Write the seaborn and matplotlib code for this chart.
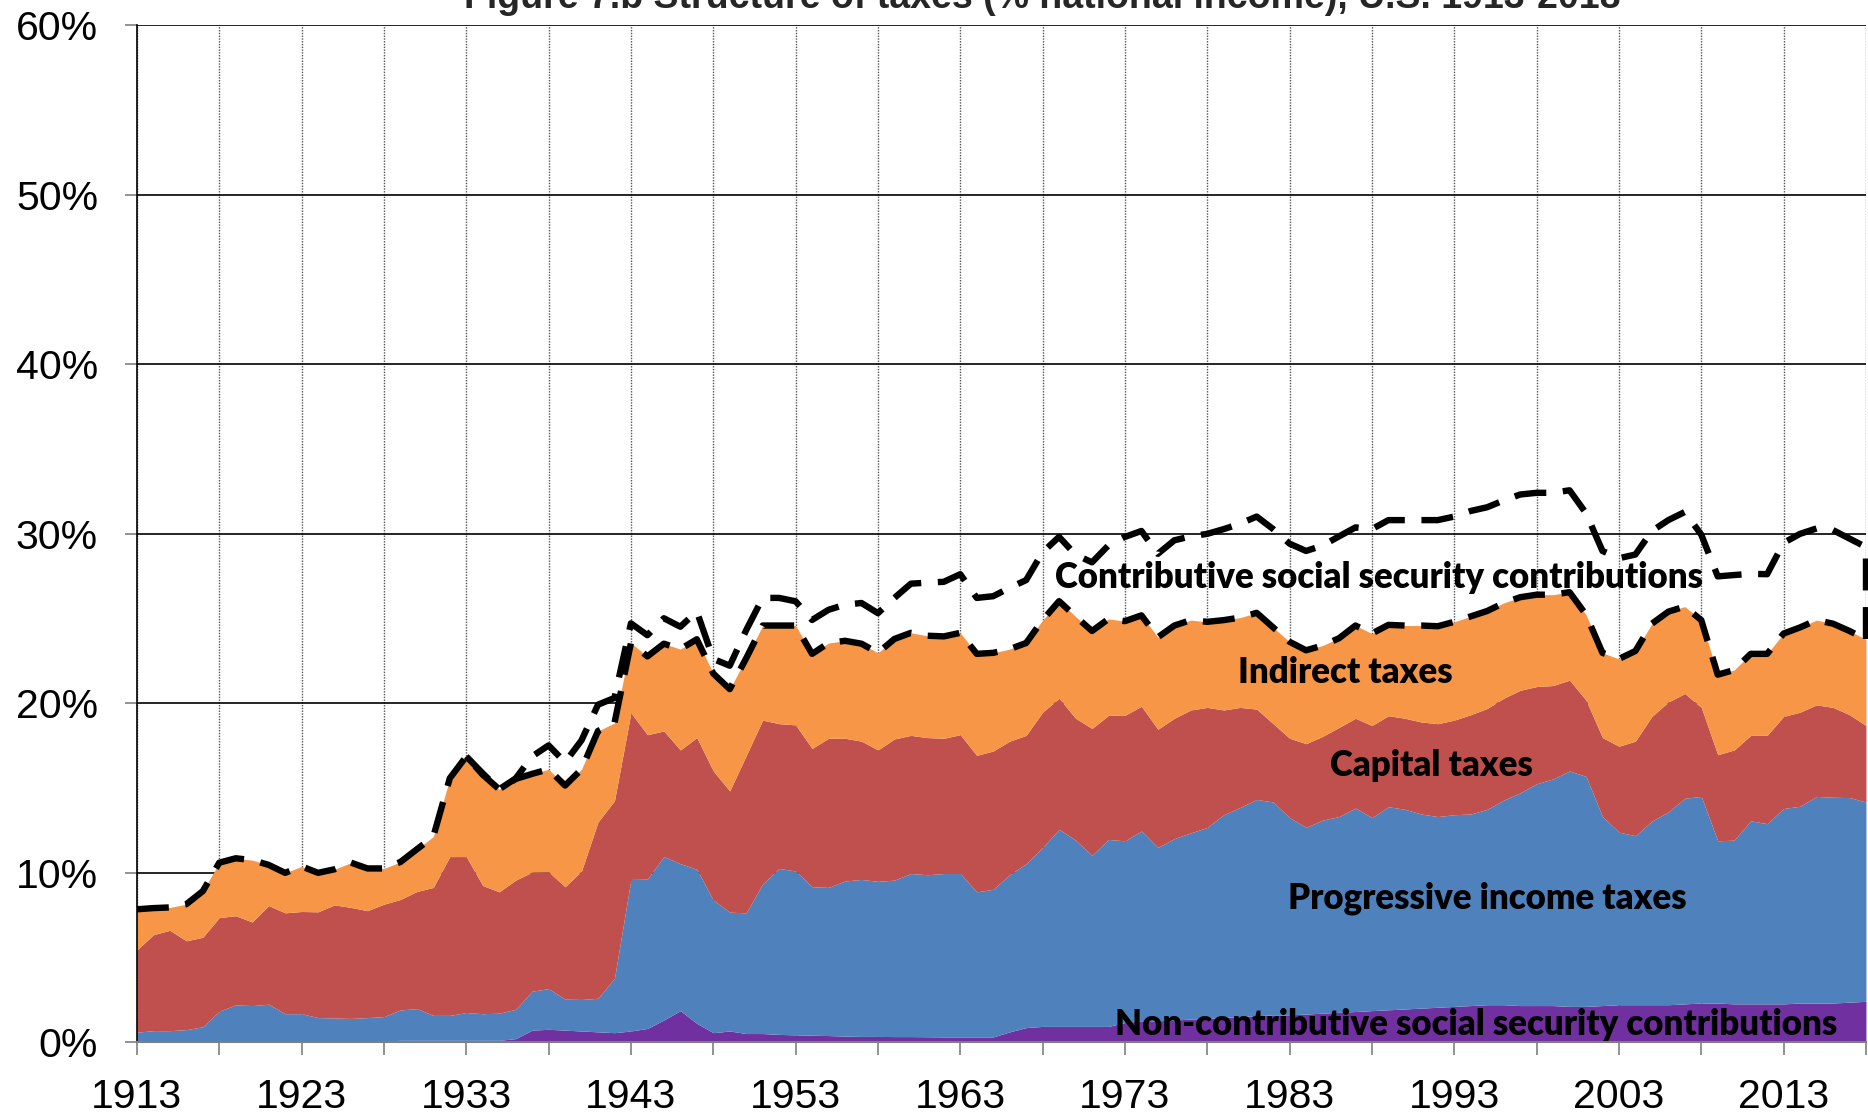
import numpy as np
import pandas as pd
import seaborn as sns
import matplotlib.pyplot as plt
from matplotlib.ticker import MultipleLocator, FuncFormatter

years = list(range(1913, 2019))

# cumulative levels (% national income), bottom to top
lvl_noncontrib = [0.0, 0.0, 0.0, 0.0, 0.0, 0.0, 0.0, 0.0, 0.0, 0.0,
                  0.0, 0.0, 0.0, 0.0, 0.0, 0.05, 0.1, 0.1, 0.1, 0.1,
                  0.1, 0.1, 0.1, 0.2, 0.7, 0.75, 0.7, 0.65, 0.6, 0.55,
                  0.65, 0.8, 1.3, 1.85, 1.1, 0.55, 0.65, 0.5, 0.5, 0.45,
                  0.42, 0.4, 0.38, 0.35, 0.33, 0.33, 0.32, 0.32, 0.31, 0.3,
                  0.3, 0.3, 0.3, 0.6, 0.85, 0.92, 0.92, 0.92, 0.92, 0.92,
                  1.15, 1.25, 1.25, 1.3, 1.35, 1.4, 1.45, 1.5, 1.55, 1.6,
                  1.6, 1.65, 1.7, 1.75, 1.8, 1.85, 1.9, 1.95, 2.0, 2.05,
                  2.1, 2.15, 2.2, 2.2, 2.15, 2.15, 2.15, 2.1, 2.1, 2.15,
                  2.2, 2.2, 2.2, 2.2, 2.25, 2.3, 2.3, 2.25, 2.25, 2.25,
                  2.25, 2.3, 2.3, 2.3, 2.35, 2.4]
lvl_income = [0.58, 0.67, 0.67, 0.73, 0.9, 1.82, 2.19, 2.15, 2.23, 1.67,
              1.67, 1.44, 1.42, 1.39, 1.44, 1.5, 1.89, 1.97, 1.57, 1.57,
              1.74, 1.67, 1.7, 1.93, 3.0, 3.15, 2.53, 2.51, 2.58, 3.76,
              9.59, 9.61, 10.94, 10.52, 10.19, 8.37, 7.66, 7.62, 9.33, 10.24,
              10.09, 9.16, 9.12, 9.5, 9.59, 9.48, 9.55, 9.94, 9.87, 9.94,
              9.94, 8.86, 9.01, 9.87, 10.52, 11.48, 12.55, 11.91, 11.01, 11.95,
              11.87, 12.45, 11.48, 12.0, 12.34, 12.66, 13.41, 13.84, 14.31, 14.16,
              13.24, 12.66, 13.09, 13.3, 13.8, 13.24, 13.88, 13.73, 13.45, 13.3,
              13.41, 13.45, 13.73, 14.27, 14.7, 15.24, 15.52, 15.99, 15.67, 13.3,
              12.38, 12.17, 13.03, 13.58, 14.38, 14.49, 11.87, 11.91, 13.05, 12.88,
              13.78, 13.91, 14.49, 14.44, 14.42, 14.16]
lvl_capital = [5.43, 6.33, 6.59, 5.97, 6.18, 7.34, 7.45, 7.08, 8.05, 7.62,
               7.7, 7.68, 8.09, 7.94, 7.75, 8.13, 8.41, 8.88, 9.12, 10.94,
               10.94, 9.23, 8.86, 9.55, 10.02, 10.04, 9.16, 10.09, 12.98, 14.23,
               19.42, 18.13, 18.35, 17.23, 17.96, 15.99, 14.81, 16.9, 18.99, 18.78,
               18.71, 17.32, 17.92, 17.92, 17.75, 17.23, 17.88, 18.09, 17.96, 17.92,
               18.13, 16.91, 17.17, 17.75, 18.09, 19.46, 20.28, 19.1, 18.5, 19.27,
               19.27, 19.81, 18.45, 19.1, 19.59, 19.74, 19.59, 19.74, 19.64, 18.78,
               17.92, 17.6, 18.03, 18.56, 19.1, 18.67, 19.25, 19.1, 18.88, 18.78,
               18.99, 19.31, 19.68, 20.28, 20.75, 20.97, 21.03, 21.35, 20.17, 17.96,
               17.45, 17.75, 19.21, 20.06, 20.56, 19.74, 16.95, 17.23, 18.09, 18.09,
               19.21, 19.46, 19.89, 19.74, 19.31, 18.67]
lvl_indirect = [7.83, 7.9, 7.94, 8.13, 8.9, 10.58, 10.84, 10.73, 10.45, 9.98,
                10.36, 9.98, 10.19, 10.58, 10.24, 10.24, 10.62, 11.37, 12.12, 15.56,
                16.85, 15.77, 14.91, 15.52, 15.82, 16.09, 15.13, 16.09, 18.35, 18.82,
                23.54, 22.75, 23.5, 23.18, 23.76, 21.74, 20.82, 22.64, 24.57, 24.57,
                24.57, 22.9, 23.54, 23.67, 23.5, 22.96, 23.78, 24.14, 23.97, 23.93,
                24.14, 22.9, 22.96, 23.18, 23.54, 24.89, 26.01, 25.11, 24.25, 24.96,
                24.83, 25.17, 23.88, 24.57, 24.89, 24.79, 24.89, 25.04, 25.32, 24.46,
                23.61, 23.11, 23.39, 23.82, 24.57, 24.1, 24.61, 24.57, 24.57, 24.53,
                24.79, 25.11, 25.43, 25.9, 26.24, 26.39, 26.39, 26.54, 25.21, 22.96,
                22.6, 23.07, 24.68, 25.39, 25.69, 24.89, 21.67, 21.95, 22.9, 22.9,
                24.1, 24.46, 24.89, 24.68, 24.25, 23.76]
lvl_total = [7.83, 7.9, 7.94, 8.13, 8.9, 10.58, 10.84, 10.73, 10.45, 9.98,
             10.36, 9.98, 10.19, 10.58, 10.24, 10.24, 10.62, 11.37, 12.12, 15.56,
             16.85, 15.85, 14.91, 15.55, 16.85, 17.5, 16.5, 17.8, 19.9, 20.3,
             24.7, 24.0, 25.0, 24.5, 25.4, 22.6, 22.2, 24.3, 26.2, 26.2,
             26.0, 24.9, 25.5, 25.8, 25.9, 25.3, 26.2, 27.04, 27.1, 27.15,
             27.6, 26.2, 26.3, 26.8, 27.25, 28.9, 29.8, 28.75, 28.3, 29.3,
             29.8, 30.15, 28.8, 29.6, 29.83, 29.98, 30.26, 30.58, 31.0, 30.26,
             29.4, 28.97, 29.29, 29.83, 30.36, 30.26, 30.79, 30.79, 30.79, 30.79,
             31.0, 31.33, 31.55, 31.95, 32.3, 32.4, 32.4, 32.55, 31.2, 28.97,
             28.54, 28.76, 30.15, 30.79, 31.27, 29.93, 27.47, 27.55, 27.62, 27.6,
             29.45, 29.98, 30.3, 30.2, 29.7, 29.2]

labels = ["Non-contributive social security contributions", "Progressive income taxes",
          "Capital taxes", "Indirect taxes", "Contributive social security contributions"]
title = "Figure 7.b Structure of taxes (% national income), U.S. 1913-2018"

df = pd.DataFrame({"year": years, "noncontrib": lvl_noncontrib, "income": lvl_income,
                   "capital": lvl_capital, "indirect": lvl_indirect, "total": lvl_total})

sns.set_theme(style="white")
plt.rcParams["font.family"] = ["Liberation Sans", "DejaVu Sans"]

fig = plt.figure(figsize=(18.68, 11.16), dpi=100)
ax = fig.add_axes([0.0733, 0.0663, 0.9256, 0.9113])

# stacked layers
colors = ["#7030A0", "#4F81BD", "#C0504D", "#F79646"]
cols = ["noncontrib", "income", "capital", "indirect"]
base = np.zeros(len(df))
for c, col in zip(cols, colors):
    ax.fill_between(df["year"], base, df[c], color=col, lw=0, zorder=2)
    base = df[c].values

# contributive social security band: dashed outline, no fill
dash = (0, (5, 2.6))
lw_dash = 4.6
sns.lineplot(data=df, x="year", y="indirect", color="black", linewidth=lw_dash,
             linestyle=dash, ax=ax, zorder=4)
sns.lineplot(data=df[df["year"] >= 1933], x="year", y="total", color="black",
             linewidth=lw_dash, linestyle=dash, ax=ax, zorder=4)
ax.plot([years[-1], years[-1]], [lvl_indirect[-1], lvl_total[-1]], color="black",
        lw=lw_dash, linestyle=dash, zorder=4, clip_on=False)

# axes
ax.set_xlim(1913, 2018)
ax.set_ylim(0, 60)
ax.xaxis.set_major_locator(MultipleLocator(10, offset=3))
ax.xaxis.set_minor_locator(MultipleLocator(5, offset=3))
ax.yaxis.set_major_locator(MultipleLocator(10))
ax.yaxis.set_major_formatter(FuncFormatter(lambda v, p: f"{v:.0f}%"))
ax.set_xlabel("")
ax.set_ylabel("")
ax.grid(axis="y", which="major", color="black", lw=1.2, zorder=0)
ax.grid(axis="x", which="both", color="#555555", lw=1, linestyle=(0, (1, 1)), zorder=0)
ax.set_axisbelow(True)
ax.tick_params(axis="both", which="both", direction="out", length=9, width=1.2,
               color="#7f7f7f", labelsize=29.5, labelcolor="black")
ax.tick_params(axis="x", which="both", bottom=True, pad=17)
ax.tick_params(axis="y", left=True, pad=19)
ax.tick_params(axis="x", which="minor", labelbottom=False)
for s in ["top", "right"]:
    ax.spines[s].set_visible(False)
ax.spines["left"].set_color("black")
ax.spines["left"].set_linewidth(1.2)
ax.spines["bottom"].set_color("#7f7f7f")
ax.spines["bottom"].set_linewidth(1.5)
ax.spines["bottom"].set_zorder(5)

# in-chart labels
lab_font = dict(family=["Lato", "DejaVu Sans"], fontweight="heavy", fontsize=25,
                ha="center", va="center", color="black", zorder=6)
ax.text(1994.3, 1.06, labels[0], **lab_font)
ax.text(1995.0, 8.5, labels[1], **lab_font)
ax.text(1991.6, 16.3, labels[2], **lab_font)
ax.text(1986.4, 21.8, labels[3], **lab_font)
ax.text(1988.4, 27.4, labels[4], **lab_font)

fig.text(0.558, 1 - 8 / 1116, title, ha="center", va="baseline",
         fontsize=27, fontweight="bold")

fig.savefig("out.png", dpi=100)
